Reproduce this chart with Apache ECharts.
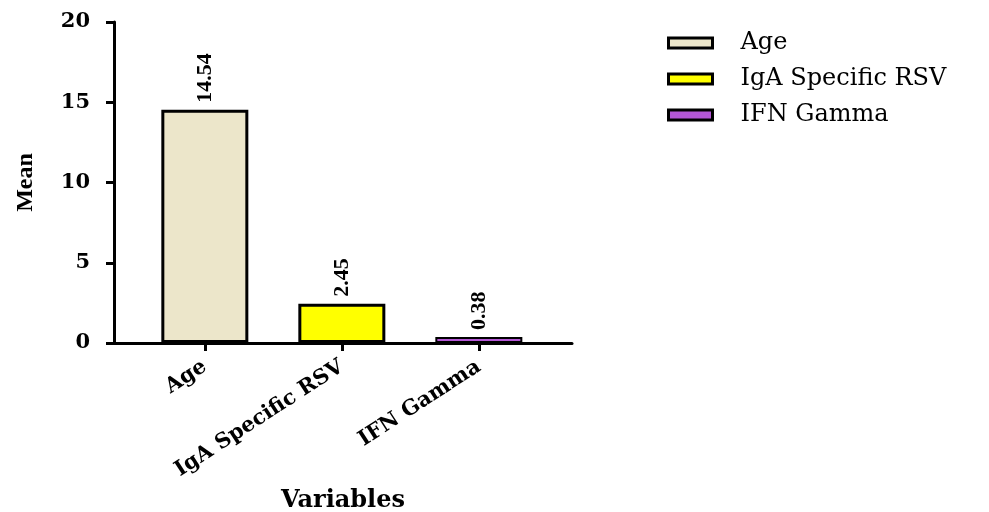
<!DOCTYPE html>
<html><head><meta charset="utf-8">
<script src="https://cdn.jsdelivr.net/npm/echarts@6/dist/echarts.min.js"></script>
<style>html,body{margin:0;padding:0;background:#fff}#c{width:989px;height:512px}</style>
</head><body><div id="c"></div>
<script>
var categories = ['Age', 'IgA Specific RSV', 'IFN Gamma'];
var meanValues = [14.54, 2.45, 0.38];
var barColors = ['#ECE6CA', '#FFFF00', '#B457D5'];
var yTicks = [0, 5, 10, 15, 20];

var chart = echarts.init(document.getElementById('c'));
var series = categories.map(function (name, i) {
  return {
    name: name, type: 'bar', barWidth: 87, barGap: '-100%',
    data: [[i, meanValues[i]]],
    itemStyle: { color: barColors[i], borderColor: '#000', borderWidth: i === 2 ? 2 : 3 },
    label: {
      show: true, position: 'top', rotate: 90, align: 'left', verticalAlign: 'middle',
      distance: 7, formatter: function (p) { return p.value[1].toFixed(2); },
      fontFamily: 'Liberation Serif', fontWeight: 'bold', fontSize: 22, color: '#000'
    }
  };
});
chart.setOption({
  animation: false,
  grid: { left: 114, right: 417, top: 22, bottom: 169, containLabel: false, outerBoundsMode: 'none' },
  legend: {
    left: 667, top: 31, padding: 0, orient: 'vertical', itemWidth: 44, itemHeight: 10, itemGap: 12,
    icon: 'rect',
    textStyle: { fontFamily: 'DejaVu Serif', fontSize: 24, color: '#000', padding: [0, 0, 0, 23] },
    itemStyle: { borderColor: '#000', borderWidth: 3 },
    data: categories
  },
  xAxis: {
    type: 'value', min: -0.663, max: 2.68,
    splitLine: { show: false },
    axisLine: { show: true, onZero: false, lineStyle: { color: '#000', width: 3 } },
    axisTick: { show: true, length: 8, lineStyle: { color: '#000', width: 3 }, customValues: [0, 1, 2] },
    axisLabel: {
      customValues: [0, 1, 2], rotate: 33, margin: 22,
      formatter: function (v) { return categories[Math.round(v)]; },
      fontFamily: 'DejaVu Serif', fontWeight: 'bold', fontSize: 21, color: '#000'
    },
    name: 'Variables', nameLocation: 'middle', nameGap: 146,
    nameTextStyle: { fontFamily: 'DejaVu Serif', fontWeight: 'bold', fontSize: 24, color: '#000' }
  },
  yAxis: {
    type: 'value', min: 0, max: 20, interval: 5,
    splitLine: { show: false },
    axisLine: { show: true, onZero: false, lineStyle: { color: '#000', width: 3 } },
    axisTick: { show: true, length: 8, lineStyle: { color: '#000', width: 3 } },
    axisLabel: { margin: 24, fontFamily: 'DejaVu Serif', fontWeight: 'bold', fontSize: 21, color: '#000' },
    name: 'Mean', nameLocation: 'middle', nameGap: 76,
    nameTextStyle: { fontFamily: 'Liberation Serif', fontWeight: 'bold', fontSize: 24, color: '#000' }
  },
  series: series
});
</script></body></html>
